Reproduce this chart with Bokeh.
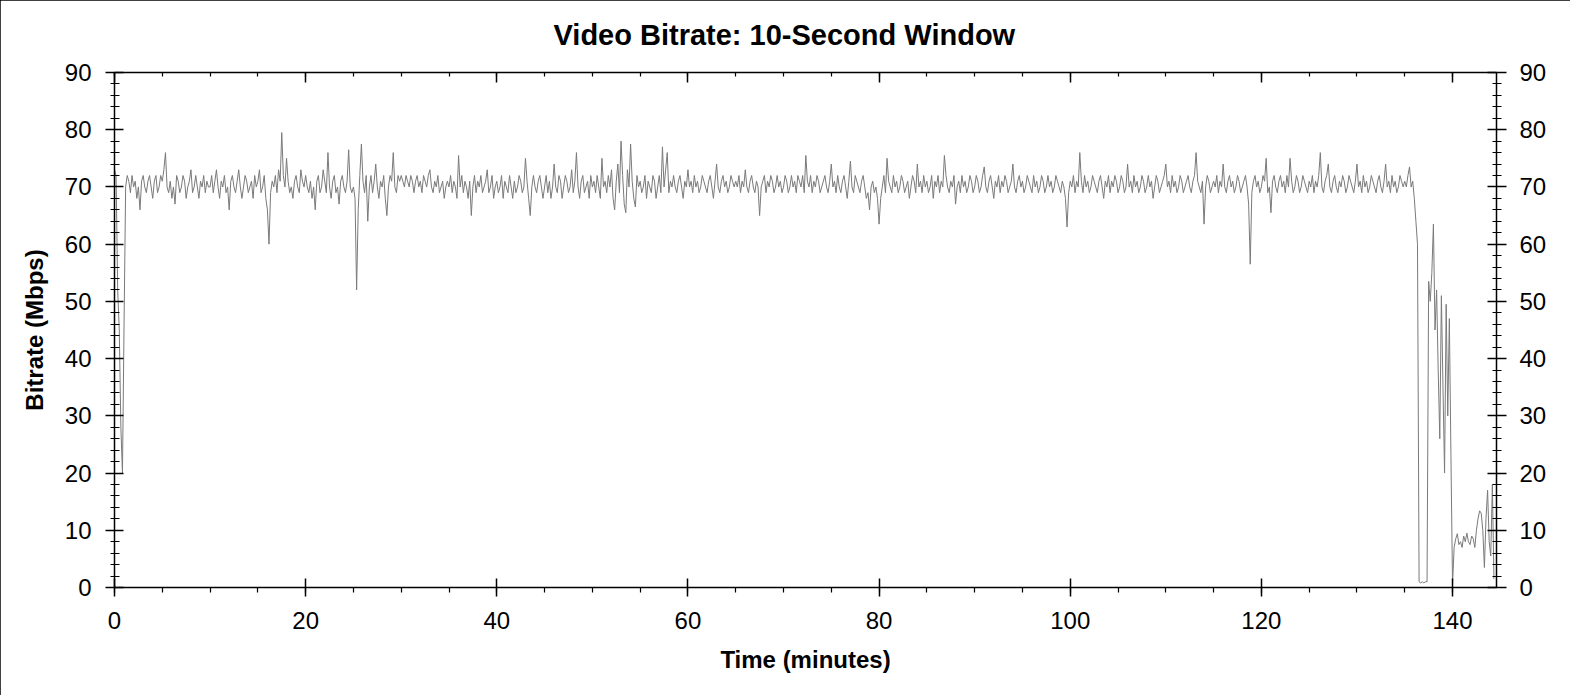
from bokeh.plotting import figure
from bokeh.models import Range1d, LinearAxis, FixedTicker, CustomLabelingPolicy
from bokeh.embed import file_html
from bokeh.resources import INLINE

# ---------------- data ----------------
title_text = "Video Bitrate: 10-Second Window"
x_label = "Time (minutes)"
y_label = "Bitrate (Mbps)"

window_seconds = 10          # one sample per 10-second window

bitrate_mbps = [
    # 0 - 5 min
    73, 72, 52, 45, 28, 20, 46, 70, 72, 71, 69, 72, 70, 71, 68, 70, 66, 71, 72, 70, 69, 71, 72, 70, 68, 71, 72, 69, 70, 72,
    # 5 - 10 min
    71, 73, 76, 70, 69, 71, 68, 70, 67, 72, 71, 69, 70, 72, 71, 68, 70, 71, 73, 69, 70, 72, 70, 68, 71, 70, 72, 69, 71, 70,
    # 10 - 15 min
    70, 72, 69, 71, 73, 70, 68, 71, 70, 72, 69, 70, 66, 71, 72, 70, 69, 71, 73, 70, 68, 70, 72, 71, 69, 70, 71, 68, 72, 70,
    # 15 - 20 min
    71, 73, 69, 70, 72, 68, 66, 60, 69, 71, 70, 72, 69, 73, 71, 79.5, 72, 70, 75, 71, 69, 70, 68, 71, 72, 70, 69, 73, 71, 70,
    # 20 - 25 min
    72, 70, 69, 71, 68, 70, 66, 71, 72, 69, 70, 73, 71, 69, 76, 70, 68, 71, 72, 69, 70, 67, 71, 72, 70, 69, 71, 76.5, 70, 69,
    # 25 - 30 min
    70, 68, 52, 66, 72, 77.5, 71, 69, 72, 64, 70, 72, 69, 71, 74, 70, 68, 71, 70, 72, 68, 65, 70, 72, 71, 76, 70, 69, 72, 71,
    # 30 - 35 min
    72, 71, 70, 72, 71, 70, 72, 71, 69, 71, 72, 70, 71, 69, 72, 71, 70, 72, 73, 70, 69, 71, 70, 72, 69, 70, 71, 68, 70, 71,
    # 35 - 40 min
    70, 72, 69, 71, 70, 68, 75.5, 70, 72, 69, 71, 70, 68, 71, 65, 70, 72, 69, 71, 70, 72, 69, 70, 71, 73, 69, 70, 72, 68, 70,
    # 40 - 45 min
    71, 69, 70, 72, 68, 71, 70, 69, 72, 70, 68, 71, 69, 70, 72, 71, 69, 70, 75, 71, 68, 65, 70, 72, 70, 69, 71, 72, 70, 68,
    # 45 - 50 min
    70, 72, 69, 71, 68, 70, 74, 70, 69, 72, 71, 68, 70, 72, 71, 69, 70, 73, 69, 71, 76, 70, 68, 71, 72, 69, 70, 71, 68, 72,
    # 50 - 55 min
    70, 71, 69, 72, 70, 68, 75, 70, 71, 69, 72, 70, 73, 68, 66, 71, 74, 69, 78, 72, 67, 65.5, 73, 70, 77.5, 71, 68, 66.5, 72, 70,
    # 55 - 60 min
    71, 69, 70, 72, 68, 71, 70, 69, 72, 71, 68, 70, 72, 69, 77, 70, 73, 76, 69, 71, 70, 72, 70, 69, 71, 72, 70, 68, 71, 70,
    # 60 - 65 min
    73, 70, 71, 69, 72, 70, 71, 69, 70, 72, 71, 70, 69, 71, 72, 70, 68, 71, 74, 70, 69, 71, 72, 70, 71, 69, 70, 72, 71, 70,
    # 65 - 70 min
    71, 70, 72, 69, 71, 70, 73, 70, 69, 71, 72, 70, 69, 71, 70, 65, 70, 71, 72, 69, 71, 70, 72, 71, 69, 70, 72, 70, 71, 69,
    # 70 - 75 min
    70, 72, 71, 69, 70, 72, 70, 71, 69, 72, 71, 70, 72, 69, 75.5, 71, 70, 72, 69, 71, 70, 72, 71, 69, 70, 71, 72, 70, 69, 71,
    # 75 - 80 min
    74, 70, 71, 69, 72, 70, 69, 71, 72, 70, 68, 71, 74.5, 70, 69, 72, 71, 70, 69, 71, 72, 70, 68, 69, 66, 70, 71, 69, 70, 68,
    # 80 - 85 min
    63.5, 68, 70, 72, 69, 75, 71, 70, 69, 72, 70, 71, 69, 70, 72, 71, 69, 70, 71, 68, 70, 72, 71, 69, 74, 70, 71, 69, 72, 70,
    # 85 - 90 min
    71, 69, 70, 72, 68, 71, 70, 72, 69, 71, 70, 75.5, 72, 70, 69, 71, 70, 72, 67, 70, 71, 69, 72, 70, 71, 69, 70, 72, 71, 69,
    # 90 - 95 min
    70, 72, 71, 69, 70, 72, 73.5, 70, 69, 71, 72, 70, 68, 71, 70, 72, 69, 71, 70, 72, 71, 69, 70, 71, 74, 70, 69, 71, 72, 70,
    # 95 - 100 min
    71, 69, 70, 72, 71, 70, 69, 72, 70, 71, 69, 70, 72, 71, 69, 70, 72, 70, 71, 69, 70, 72, 71, 70, 69, 71, 70, 68, 63, 69,
    # 100 - 105 min
    71, 70, 72, 69, 71, 70, 76, 71, 69, 72, 70, 71, 69, 70, 72, 71, 70, 69, 71, 72, 70, 68, 71, 70, 72, 69, 71, 70, 72, 71,
    # 105 - 110 min
    69, 70, 72, 71, 69, 70, 74, 70, 71, 69, 72, 70, 71, 69, 70, 72, 71, 69, 70, 72, 70, 71, 68, 70, 72, 71, 69, 70, 71, 72,
    # 110 - 115 min
    74, 70, 71, 69, 72, 70, 71, 69, 70, 72, 71, 69, 70, 71, 72, 70, 69, 71, 72, 76, 71, 70, 69, 71, 63.5, 70, 72, 71, 69, 70,
    # 115 - 120 min
    71, 70, 72, 69, 71, 70, 74, 70, 69, 71, 72, 70, 71, 69, 70, 72, 71, 69, 70, 71, 72, 70, 67, 56.5, 69, 71, 72, 70, 71, 69,
    # 120 - 125 min
    70, 72, 71, 75, 69, 70, 65.5, 71, 72, 70, 69, 71, 72, 70, 71, 69, 72, 70, 75, 71, 69, 70, 72, 71, 69, 70, 72, 71, 70, 69,
    # 125 - 130 min
    71, 70, 72, 69, 71, 70, 72, 76, 70, 69, 71, 72, 74, 70, 69, 71, 72, 70, 69, 71, 70, 72, 71, 69, 70, 72, 71, 70, 69, 71,
    # 130 - 135 min
    74, 70, 71, 69, 72, 70, 71, 69, 70, 72, 71, 70, 69, 71, 72, 70, 69, 71, 74, 70, 71, 69, 72, 70, 71, 69, 70, 72, 71, 70,
    # 135 - 140 min
    71, 70, 72, 73.5, 70, 71, 68, 64, 60, 1, 0.8, 1, 0.8, 1, 1, 53.5, 50, 55, 63.5, 45, 52, 38, 26, 51, 35, 20, 49.5, 30, 47, 23,
    # 140 - 144.7 min
    0.5, 7, 8.5, 9.4, 7.5, 8, 7, 9, 8, 9.5, 8, 7.5, 9, 8.5, 7, 10, 12, 13.4, 13, 10, 3.5, 12, 17, 8, 5.5, 18, 1.5,
]
minutes = [i * window_seconds / 60 for i in range(len(bitrate_mbps))]

x_major_ticks = [0, 20, 40, 60, 80, 100, 120, 140]
x_minor_ticks = list(range(0, 146, 5))
y_major_ticks = [0, 10, 20, 30, 40, 50, 60, 70, 80, 90]
y_minor_ticks = list(range(0, 91, 2))

# ---------------- figure ----------------
FONT = "Liberation Sans"

p = figure(
    width=1570, height=695,
    output_backend="svg", toolbar_location=None,
    x_range=Range1d(0, 144.6), y_range=Range1d(0, 90),
    min_border_left=114, min_border_right=74,
    min_border_top=71, min_border_bottom=108,
)
p.styles = {"outline": "2px solid black", "outline-offset": "-2px"}
p.background_fill_color = "white"
p.border_fill_color = "white"
p.outline_line_color = None
p.xgrid.visible = False
p.ygrid.visible = False

p.title.text = title_text
p.title.align = "left"
p.title.offset = 439
p.title.vertical_align = "middle"
p.title.text_font = FONT
p.title.text_font_size = "29px"
p.title.text_font_style = "bold"
p.title.text_color = "black"
p.title.standoff = 34

p.line(minutes, bitrate_mbps, line_color="#7a7a7a", line_width=1)


def style_axis(ax, ticks, minor, tin, tout, min_in, min_out):
    ax.ticker = FixedTicker(ticks=ticks, minor_ticks=minor)
    ax.axis_line_color = "black"
    ax.axis_line_width = 1.5
    ax.major_tick_line_color = "black"
    ax.major_tick_line_width = 1.5
    ax.minor_tick_line_color = "black"
    ax.minor_tick_line_width = 1.2
    ax.major_tick_in = tin
    ax.major_tick_out = tout
    ax.minor_tick_in = min_in
    ax.minor_tick_out = min_out
    ax.major_label_text_font = FONT
    ax.major_label_text_color = "black"
    ax.major_label_text_font_size = "24px"
    ax.axis_label_text_font = FONT
    ax.axis_label_text_font_size = "24px"
    ax.axis_label_text_font_style = "bold"
    ax.axis_label_text_color = "black"


xb = p.xaxis[0]
style_axis(xb, x_major_ticks, x_minor_ticks, 9, 9, 0, 5)
xb.major_label_standoff = 15
xb.axis_label = x_label
xb.axis_label_standoff = 14

yl = p.yaxis[0]
style_axis(yl, y_major_ticks, y_minor_ticks, 9, 9, 5, 4)
yl.major_label_standoff = 14
yl.axis_label = y_label
yl.axis_label_standoff = 14

# top axis: ticks only, no labels (label policy drops every label)
no_labels = CustomLabelingPolicy(code="""
    const all = [];
    for (const i of indices) all.push(i);
    for (const i of all) indices.unset(i);
    return indices;
""")
xt = LinearAxis()
style_axis(xt, x_major_ticks, x_minor_ticks, 10, 0, 4, 0)
xt.major_label_text_font_size = "1px"
xt.major_label_standoff = 0
xt.major_label_policy = no_labels
p.add_layout(xt, "above")

yr = LinearAxis()
style_axis(yr, y_major_ticks, y_minor_ticks, 9, 10, 4, 5)
yr.major_label_standoff = 13
p.add_layout(yr, "right")

open("out.html", "w").write(file_html(p, INLINE))
